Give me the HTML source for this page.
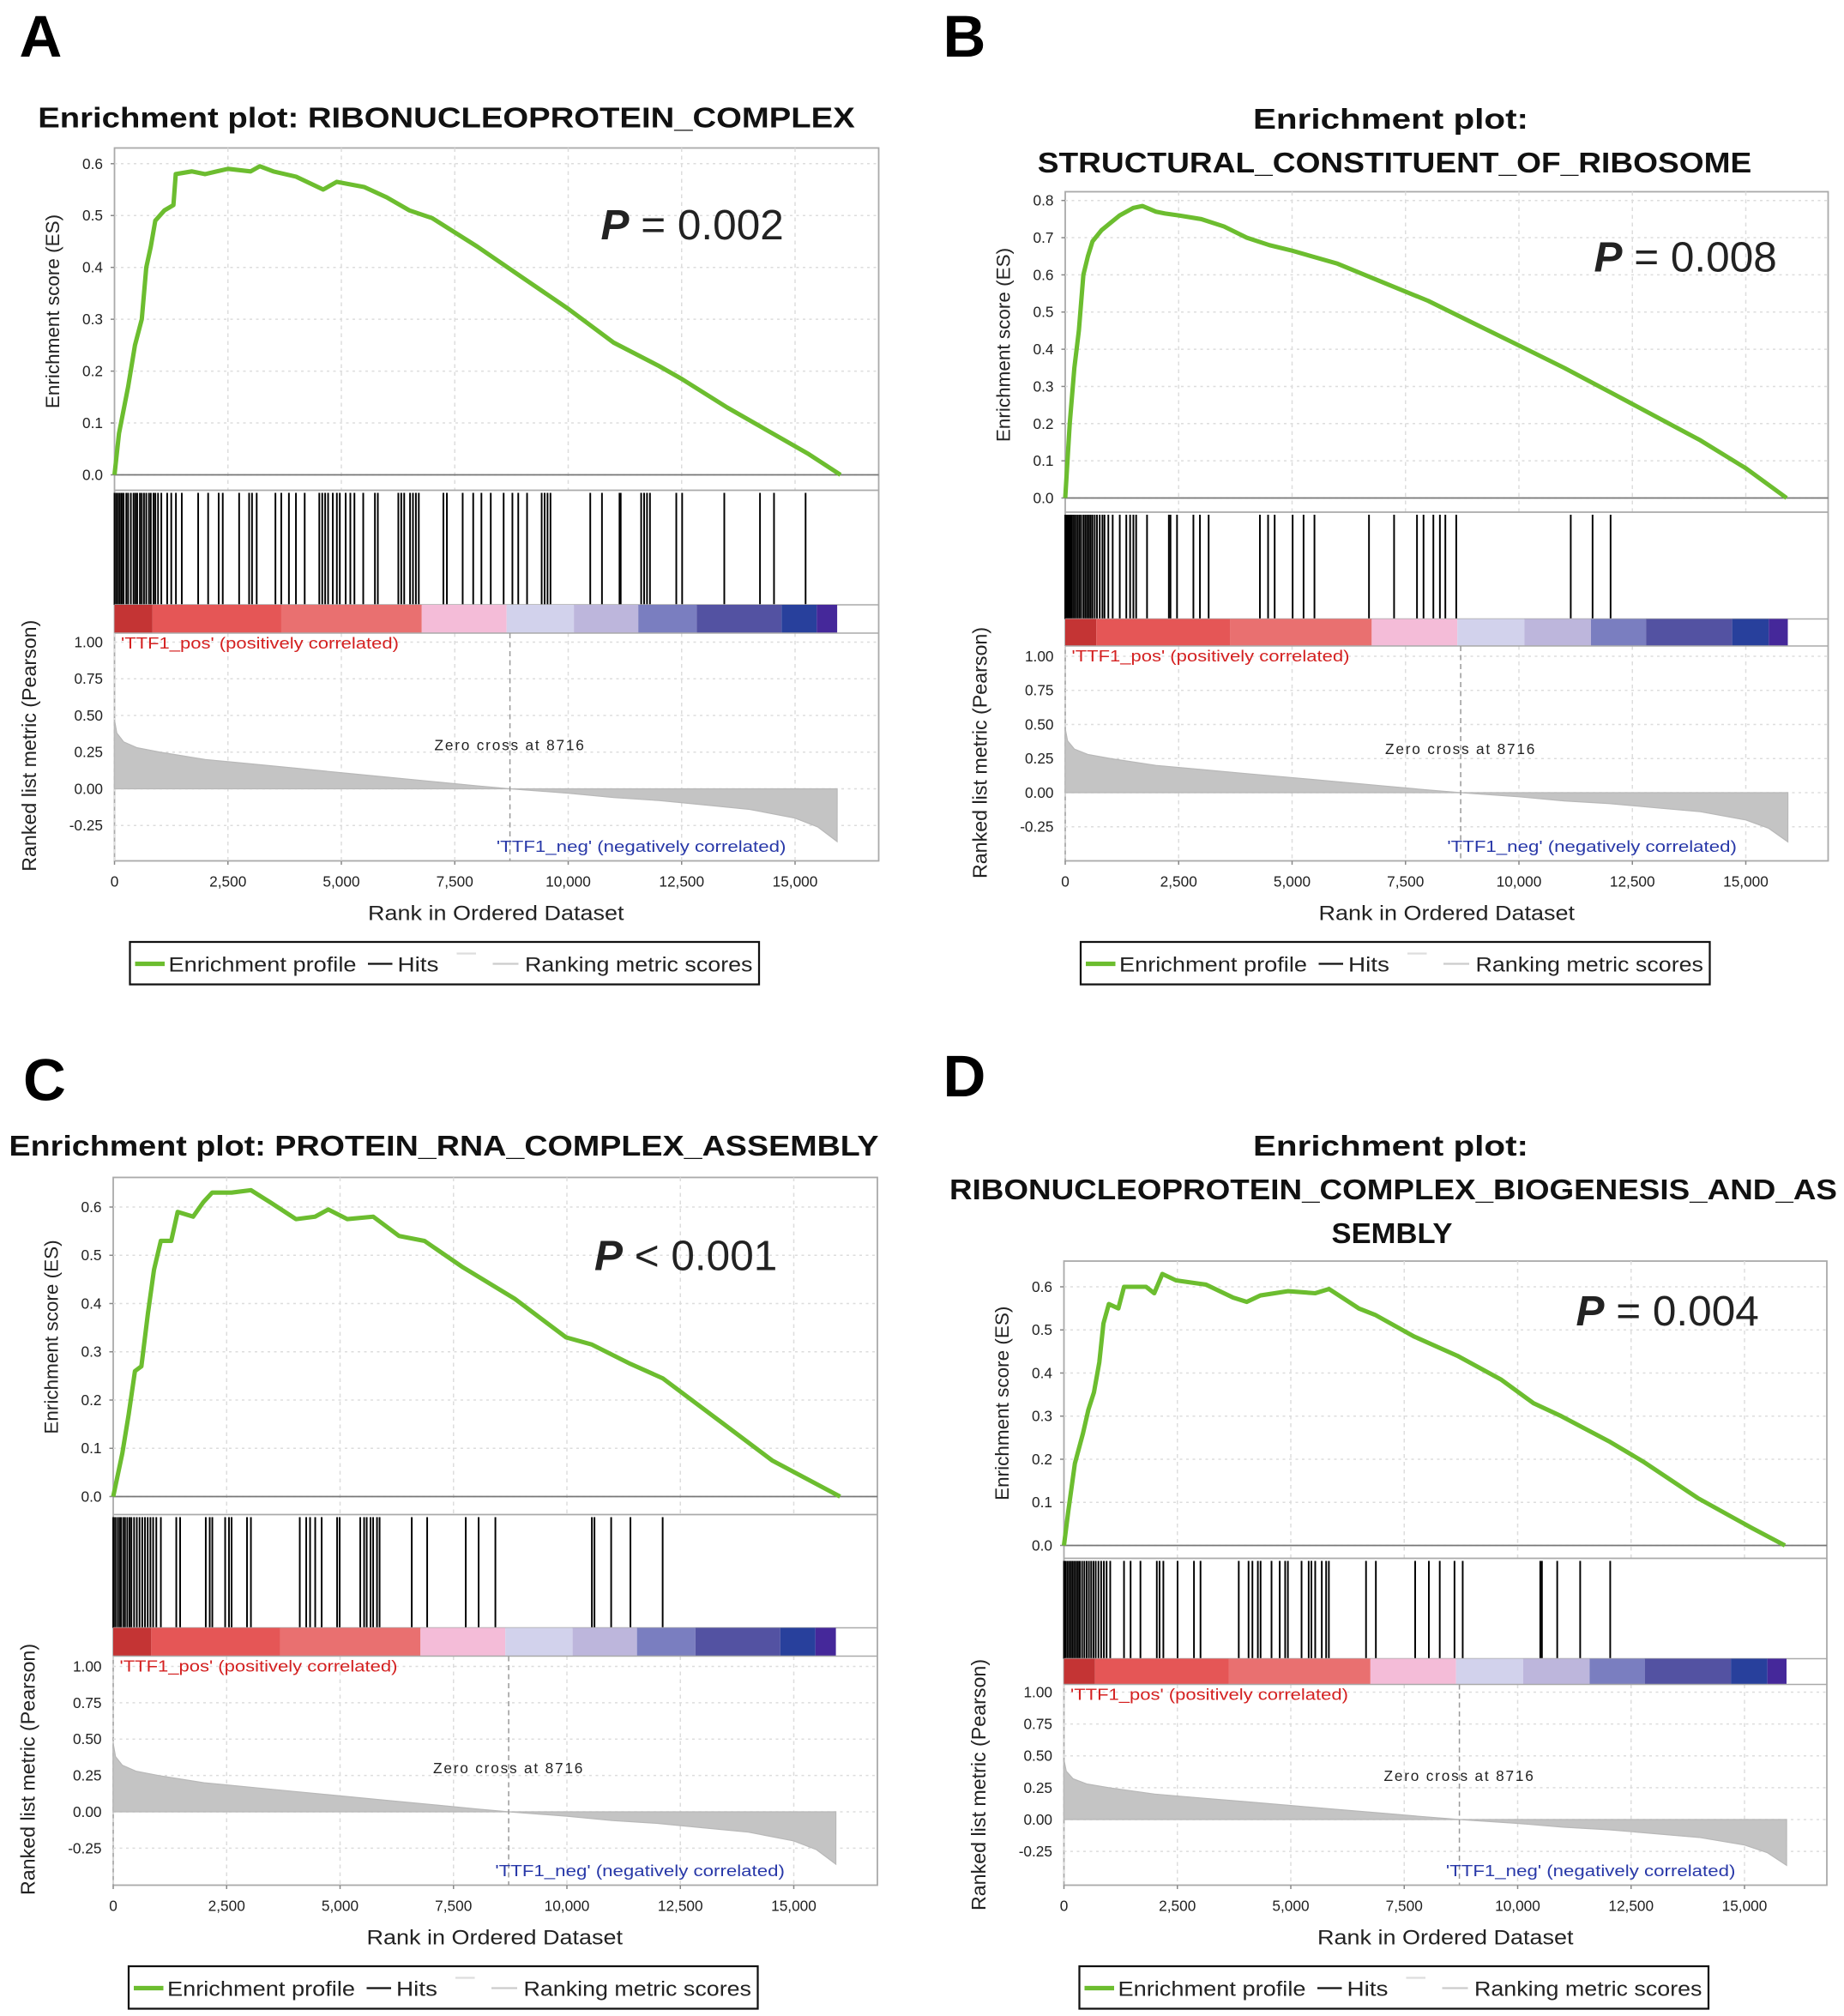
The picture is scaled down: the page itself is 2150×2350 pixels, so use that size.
<!DOCTYPE html>
<html><head><meta charset="utf-8"><style>
html,body{margin:0;padding:0;background:#fff;}
svg{display:block;font-family:"Liberation Sans",sans-serif;}
</style></head><body>
<svg id="fig" width="2150" height="2350" viewBox="0 0 1433.33 1566.67" xmlns="http://www.w3.org/2000/svg"></svg>
<script>
// ---------- data ----------
const xTicks = [0,2500,5000,7500,10000,12500,15000];
const xTickLabels = ["0","2,500","5,000","7,500","10,000","12,500","15,000"];
const metricTicks = [1.0,0.75,0.5,0.25,0.0,-0.25];
const metricTickLabels = ["1.00","0.75","0.50","0.25","0.00","-0.25"];
const esTicksA = [0,0.1,0.2,0.3,0.4,0.5,0.6];
const esTicksB = [0,0.1,0.2,0.3,0.4,0.5,0.6,0.7,0.8];
const zeroCross = 8716;
const metricRank = [0,50,200,500,1000,2000,3000,4000,5000,6000,7000,8000,8716,10000,11000,12000,13000,14000,15000,15500,15928];
const metricVal = [0.47,0.38,0.32,0.28,0.25,0.20,0.17,0.14,0.11,0.08,0.05,0.02,0,-0.03,-0.06,-0.08,-0.11,-0.14,-0.20,-0.26,-0.36];
const cbBoundsA = [0,838,3676,6772,8642,10125,11544,12833,14703,15477,15928];
const cbBoundsB = [0,685,3630,6755,8642,10121,11587,12801,14700,15505,15926];

const esRankA = [0,100,300,450,600,700,800,900,1100,1300,1350,1700,2000,2500,3000,3200,3500,4000,4600,4900,5500,6000,6500,7000,8000,9000,10000,11000,12000,12500,13500,14300,15300,16000];
const esValA = [0,0.08,0.17,0.25,0.30,0.40,0.44,0.49,0.51,0.52,0.58,0.585,0.58,0.59,0.585,0.595,0.585,0.575,0.55,0.565,0.555,0.535,0.51,0.495,0.44,0.38,0.32,0.255,0.21,0.185,0.13,0.09,0.04,0];
const hitsA = [0,40,80,120,160,200,260,300,360,420,460,500,560,600,650,700,760,800,860,900,960,1032,1161,1251,1354,1483,1844,2064,2296,2386,2747,2967,3031,3134,3547,3676,3844,3999,4192,4514,4579,4643,4708,4811,4901,4966,5095,5198,5288,5482,5740,5804,6256,6320,6385,6514,6578,6643,6707,7249,7326,7674,7906,8087,8293,8577,8770,8899,9093,9415,9480,9544,9609,10486,10744,11131,11157,11608,11673,11737,11802,12382,12511,13440,14227,14536,15232];

const esRankB = [0,100,200,300,400,500,600,800,1000,1200,1500,1700,2000,2200,2500,3000,3500,4000,4500,5000,6000,7000,8000,9000,10000,11000,12000,13000,14000,15000,15900];
const esValB = [0,0.2,0.35,0.45,0.6,0.65,0.69,0.72,0.74,0.76,0.78,0.785,0.77,0.765,0.76,0.75,0.73,0.70,0.68,0.665,0.63,0.58,0.53,0.47,0.41,0.35,0.285,0.22,0.155,0.08,0];
const hitsB = [0,30,60,90,120,150,190,230,270,310,350,400,440,480,520,560,600,650,700,760,820,865,950,1046,1202,1346,1430,1502,1563,1803,2284,2320,2464,2825,2969,3161,4291,4471,4616,5012,5253,5493,6695,7248,7753,7897,8114,8258,8378,8618,11142,11623,12020];

const esRankC = [0,200,340,480,620,765,900,1050,1280,1420,1760,1985,2180,2610,3035,3460,4030,4450,4740,5160,5730,6300,6860,7710,8850,9980,10550,11400,12110,13390,14520,16020];
const esValC = [0,0.09,0.17,0.26,0.27,0.38,0.47,0.53,0.53,0.59,0.58,0.61,0.63,0.63,0.635,0.61,0.575,0.58,0.595,0.575,0.58,0.54,0.53,0.475,0.41,0.33,0.315,0.275,0.245,0.155,0.075,0];
const hitsC = [0,40,85,130,170,220,260,310,360,400,460,520,580,640,700,760,820,880,950,1050,1390,1475,2040,2127,2184,2467,2552,2609,2949,3035,4112,4254,4339,4452,4594,4935,4991,5445,5530,5587,5672,5729,5814,5871,6580,6920,7770,8054,8423,10550,10607,10975,11400,12110];

const esRankD = [0,96,240,420,540,660,780,870,990,1200,1325,1810,1990,2170,2470,3130,3730,4030,4330,4935,5540,5840,6500,6860,7710,8670,9630,10350,10960,12040,12760,13970,15170,15890];
const esValD = [0,0.08,0.19,0.26,0.315,0.355,0.425,0.515,0.56,0.55,0.6,0.6,0.585,0.63,0.615,0.605,0.575,0.565,0.58,0.59,0.585,0.595,0.55,0.535,0.485,0.44,0.385,0.33,0.30,0.24,0.195,0.11,0.04,0];
const hitsD = [0,30,70,110,150,190,230,270,310,350,400,450,500,550,600,650,700,760,820,880,940,1020,1324,1469,1686,2047,2107,2191,2504,2866,3010,3853,4069,4154,4274,4334,4575,4756,4876,4936,5237,5394,5454,5538,5683,5779,5839,6658,6875,7741,8043,8283,8608,8789,10499,10535,10872,11378,12040];

const cbColors = ["#c43434","#e55656","#e97070","#f4bcd8","#d2d2ec","#bdb6dc","#7a7ec0","#5352a2","#28409c","#45289a"];

// ---------- helpers ----------
const NS="http://www.w3.org/2000/svg";
const svg=document.getElementById('fig');
function mk(tag,attrs,parent,text){const e=document.createElementNS(NS,tag);for(const k in attrs)e.setAttribute(k,attrs[k]);if(text!==undefined)e.textContent=text;(parent||svg).appendChild(e);return e;}

function panel(p){
  const g=mk('g',{});
  
  
  const X=r=>p.L+r*(529/15000);
  const ESY=v=>p.zero-v*p.esScale;
  const MY=v=>p.m0-v*p.mScale;
  const lt=mk('text',{x:p.letterX,y:p.letterY,'font-size':46,'font-weight':'bold',fill:'#000'},g,p.id.toUpperCase());
  
  
  p.titles.forEach(t=>{
    const a={x:t.x,y:t.y,'font-size':22,'font-weight':'bold',fill:'#111','text-anchor':t.anchor||'middle'};
    if(t.len){a.textLength=t.len;a.lengthAdjust='spacingAndGlyphs';}
    const e=mk('text',a,g,t.s);
    
    
  });
  mk('rect',{x:p.L,y:p.top,width:p.R-p.L,height:p.bottom-p.top,fill:'#fff',stroke:'#aaa','stroke-width':1.2},g);
  xTicks.forEach(t=>{ if(t>0) mk('line',{x1:X(t),x2:X(t),y1:p.top,y2:p.sep,stroke:'#ddd','stroke-dasharray':'3,3'},g);
    mk('line',{x1:X(t),x2:X(t),y1:p.cbB,y2:p.bottom,stroke:'#ddd','stroke-dasharray':'3,3'},g);});
  p.esTicks.forEach((v,i)=>{
    mk('line',{x1:p.L,x2:p.R,y1:ESY(v),y2:ESY(v),stroke:'#ddd','stroke-dasharray':'2,3'},g);
    mk('line',{x1:p.L-3,x2:p.L,y1:ESY(v),y2:ESY(v),stroke:'#888'},g);
    const e=mk('text',{x:p.L-9,y:ESY(v)+4,'font-size':11.5,'text-anchor':'end',fill:'#222'},g,v.toFixed(1));
    
    
  });
  mk('line',{x1:p.L,x2:p.R,y1:p.zero,y2:p.zero,stroke:'#777','stroke-width':1.2},g);
  mk('line',{x1:p.L,x2:p.R,y1:p.sep,y2:p.sep,stroke:'#aaa','stroke-width':1.2},g);
  const pts=p.esR.map((r,i)=>X(r).toFixed(1)+','+ESY(p.esV[i]).toFixed(1)).join(' ');
  const es=mk('polyline',{points:pts,fill:'none',stroke:'#6cbd2f','stroke-width':3.4,'stroke-linejoin':'round'},g);
  
  
  const pt=mk('text',{x:p.px,y:p.py,'font-size':33,fill:'#222'},g);
  
  
  mk('tspan',{'font-weight':'bold','font-style':'italic'},pt,'P');
  mk('tspan',{},pt,p.ptext);
  const hg=mk('g',{},g);
  
  
  p.hits.forEach(h=>{const l=mk('line',{x1:X(h),x2:X(h),y1:p.sep+2,y2:p.cbT,stroke:'#000','stroke-width':1.3},hg);
    
    });
  mk('line',{x1:p.L,x2:p.R,y1:p.cbT,y2:p.cbT,stroke:'#aaa'},g);
  for(let i=0;i<cbColors.length;i++){
    const r=mk('rect',{x:X(p.cb[i]),y:p.cbT,width:X(p.cb[i+1])-X(p.cb[i]),height:p.cbB-p.cbT,fill:cbColors[i]},g);
    
    
  }
  mk('line',{x1:p.L,x2:p.R,y1:p.cbB,y2:p.cbB,stroke:'#aaa'},g);
  metricTicks.forEach((v,i)=>{
    mk('line',{x1:p.L,x2:p.R,y1:MY(v),y2:MY(v),stroke:'#ddd','stroke-dasharray':'2,3'},g);
    const e=mk('text',{x:p.L-9,y:MY(v)+4,'font-size':11.5,'text-anchor':'end',fill:'#222'},g,metricTickLabels[i]);
    
    
  });
  let d='M'+X(0)+','+MY(0);
  metricRank.forEach((r,i)=>{d+=' L'+X(r).toFixed(1)+','+MY(metricVal[i]).toFixed(1);});
  d+=' L'+X(metricRank[metricRank.length-1])+','+MY(0)+' Z';
  const ma=mk('path',{d:d,fill:'#c4c4c4',stroke:'#b8b8b8','stroke-width':0.8},g);
  
  
  mk('line',{x1:X(zeroCross),x2:X(zeroCross),y1:p.cbB,y2:p.bottom,stroke:'#999','stroke-dasharray':'4,3'},g);
  let e=mk('text',{x:X(zeroCross),y:MY(0)-30,'font-size':11.5,'text-anchor':'middle',fill:'#222','letter-spacing':'1.2'},g,'Zero cross at 8716');
  
  
  e=mk('text',{x:p.L+5,y:p.cbB+12,'font-size':12.5,fill:'#d42020',textLength:216,lengthAdjust:'spacingAndGlyphs'},g,"'TTF1_pos' (positively correlated)");
  
  
  e=mk('text',{x:X(14800)-225,y:p.bottom-7,'font-size':12.5,fill:'#2838a8',textLength:225,lengthAdjust:'spacingAndGlyphs'},g,"'TTF1_neg' (negatively correlated)");
  
  
  xTicks.forEach((t,i)=>{
    mk('line',{x1:X(t),x2:X(t),y1:p.bottom,y2:p.bottom+3,stroke:'#888'},g);
    const e=mk('text',{x:X(t),y:p.bottom+20,'font-size':11.5,'text-anchor':'middle',fill:'#222'},g,xTickLabels[i]);
    
    
  });
  e=mk('text',{x:p.L+197,y:p.bottom+46,'font-size':16,fill:'#222',textLength:199,lengthAdjust:'spacingAndGlyphs'},g,'Rank in Ordered Dataset');
  
  
  let cy=(p.top+p.zero)/2;
  e=mk('text',{x:0,y:0,'font-size':15,'text-anchor':'middle',fill:'#222',transform:`translate(${p.L-43},${cy}) rotate(-90)`},g,'Enrichment score (ES)');
  
  
  cy=(p.cbT+p.bottom)/2+10;
  e=mk('text',{x:0,y:0,'font-size':15.5,'text-anchor':'middle',fill:'#222',transform:`translate(${p.L-61},${cy}) rotate(-90)`},g,'Ranked list metric (Pearson)');
  
  
  const lg=mk('g',{},g);
  
  
  const ly=p.bottom+63;
  mk('rect',{x:p.L+12,y:ly,width:489,height:33,fill:'#fff',stroke:'#111','stroke-width':1.5},lg);
  const my=ly+17;
  mk('line',{x1:p.L+16,x2:p.L+39,y1:my,y2:my,stroke:'#6cbd2f','stroke-width':3.5},lg);
  e=mk('text',{x:p.L+42,y:my+6,'font-size':16,fill:'#222',textLength:146,lengthAdjust:'spacingAndGlyphs'},lg,'Enrichment profile');
  
  
  mk('line',{x1:p.L+197,x2:p.L+216,y1:my,y2:my,stroke:'#111','stroke-width':1.5},lg);
  e=mk('text',{x:p.L+220,y:my+6,'font-size':16,fill:'#222',textLength:32,lengthAdjust:'spacingAndGlyphs'},lg,'Hits');
  
  
  mk('line',{x1:p.L+266,x2:p.L+281,y1:my-8,y2:my-8,stroke:'#ddd','stroke-width':1.5},lg);
  mk('line',{x1:p.L+294,x2:p.L+314,y1:my,y2:my,stroke:'#ccc','stroke-width':1.5},lg);
  e=mk('text',{x:p.L+319,y:my+6,'font-size':16,fill:'#222',textLength:177,lengthAdjust:'spacingAndGlyphs'},lg,'Ranking metric scores');
  
  
}

panel({id:'a',L:89,R:683,top:115,zero:369,esScale:403,sep:381,cbT:470,cbB:492,m0:613,mScale:114,bottom:669,
  esTicks:esTicksA,esR:esRankA,esV:esValA,hits:hitsA,cb:cbBoundsA,letterX:15,letterY:44,px:467,py:186,ptext:' = 0.002',
  titles:[{s:'Enrichment plot: RIBONUCLEOPROTEIN_COMPLEX',x:347,y:99,len:635}]});
panel({id:'b',L:828,R:1421,top:149,zero:387,esScale:289,sep:398,cbT:481,cbB:502,m0:616,mScale:106,bottom:669,
  esTicks:esTicksB,esR:esRankB,esV:esValB,hits:hitsB,cb:cbBoundsB,letterX:733,letterY:44,px:1239,py:211,ptext:' = 0.008',
  titles:[{s:'Enrichment plot:',x:1081,y:100,len:214},{s:'STRUCTURAL_CONSTITUENT_OF_RIBOSOME',x:1084,y:134,len:555}]});
panel({id:'c',L:88,R:682,top:915,zero:1163,esScale:375,sep:1177,cbT:1265,cbB:1287,m0:1408,mScale:113,bottom:1465,
  esTicks:esTicksA,esR:esRankC,esV:esValC,hits:hitsC,cb:cbBoundsA,letterX:18,letterY:855,px:462,py:987,ptext:' < 0.001',
  titles:[{s:'Enrichment plot: PROTEIN_RNA_COMPLEX_ASSEMBLY',x:345,y:898,len:676}]});
panel({id:'d',L:827,R:1420,top:980,zero:1201,esScale:335,sep:1211,cbT:1289,cbB:1309,m0:1414,mScale:99,bottom:1465,
  esTicks:esTicksA,esR:esRankD,esV:esValD,hits:hitsD,cb:cbBoundsB,letterX:733,letterY:852,px:1225,py:1030,ptext:' = 0.004',
  titles:[{s:'Enrichment plot:',x:1081,y:898,len:214},{s:'RIBONUCLEOPROTEIN_COMPLEX_BIOGENESIS_AND_AS',x:1083,y:932,len:690},{s:'SEMBLY',x:1082,y:966,len:94}]});
</script>
</body></html>
